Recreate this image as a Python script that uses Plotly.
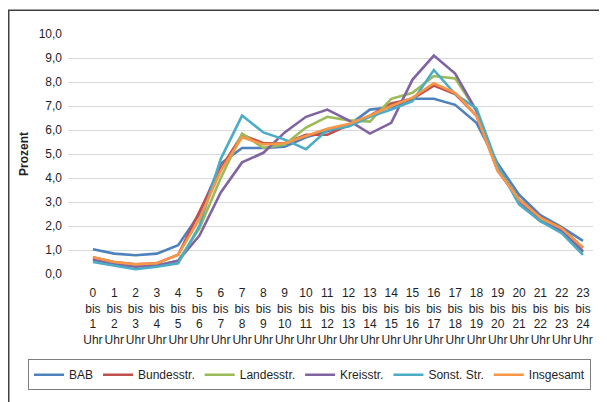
import plotly.graph_objects as go

hours = [f"{h}<br>bis<br>{h+1}<br>Uhr" for h in range(24)]

bab = [1.03, 0.85, 0.78, 0.85, 1.2, 2.5, 4.6, 5.25, 5.25, 5.3, 5.7, 5.95, 6.2, 6.85, 6.95, 7.3, 7.3, 7.05, 6.3, 4.6, 3.3, 2.45, 1.95, 1.38]
bundes = [0.7, 0.5, 0.4, 0.45, 0.8, 2.6, 4.4, 5.8, 5.45, 5.45, 5.8, 5.8, 6.2, 6.6, 7.1, 7.3, 7.85, 7.5, 6.6, 4.3, 3.1, 2.35, 1.9, 1.1]
landes = [0.6, 0.45, 0.35, 0.35, 0.55, 1.9, 4.0, 5.85, 5.25, 5.4, 6.1, 6.55, 6.4, 6.35, 7.3, 7.55, 8.25, 8.15, 6.8, 4.4, 3.1, 2.3, 1.85, 0.9]
kreis = [0.6, 0.4, 0.3, 0.35, 0.55, 1.6, 3.4, 4.65, 5.05, 5.9, 6.55, 6.85, 6.4, 5.85, 6.3, 8.1, 9.1, 8.35, 6.8, 4.4, 3.05, 2.2, 1.8, 0.95]
sonst = [0.5, 0.35, 0.2, 0.3, 0.45, 2.0, 4.8, 6.6, 5.9, 5.6, 5.2, 6.0, 6.15, 6.55, 6.85, 7.2, 8.5, 7.5, 6.9, 4.5, 2.9, 2.2, 1.7, 0.8]
insg = [0.7, 0.5, 0.4, 0.45, 0.8, 2.3, 4.3, 5.7, 5.4, 5.45, 5.75, 6.05, 6.25, 6.6, 7.0, 7.35, 7.95, 7.55, 6.6, 4.3, 3.1, 2.35, 1.9, 1.1]

names = ["BAB", "Bundesstr.", "Landesstr.", "Kreisstr.", "Sonst. Str.", "Insgesamt"]
series = [bab, bundes, landes, kreis, sonst, insg]
colors = ["#4F81BD", "#C0504D", "#9BBB59", "#8064A2", "#4BACC6", "#F79646"]

yticks = [0, 1, 2, 3, 4, 5, 6, 7, 8, 9, 10]
yticktext = [f"{v},0" for v in yticks]

font = "Liberation Sans"
txt = "#1f1f1f"

W, H = 599, 394
L, T, PW, PH = 60, 26, 525, 242

fig = go.Figure()
for n, s, c in zip(names, series, colors):
    fig.add_trace(go.Scatter(x=list(range(24)), y=s, name=n, mode="lines",
                             line=dict(color=c, width=2.6)))

fig.update_layout(
    width=W, height=H,
    margin=dict(l=L, r=W - L - PW, t=T, b=H - T - PH),
    paper_bgcolor="white", plot_bgcolor="white",
    font=dict(family=font, size=12, color=txt),
    showlegend=True,
    legend=dict(orientation="h", x=(20 - L) / PW, y=1 - (354 - T) / PH,
                xanchor="left", yanchor="top",
                bordercolor="#7f7f7f", borderwidth=1, font=dict(size=12),
                itemwidth=30, tracegroupgap=0),
    xaxis=dict(range=[-1.17, 23.47], tickmode="array", tickvals=list(range(24)),
               ticktext=hours, showgrid=False, zeroline=False, showline=False,
               tickfont=dict(size=12, color=txt), ticks="", tickangle=0,
               ticklabelstandoff=10, automargin=False),
    yaxis=dict(range=[0, 10], tickmode="array", tickvals=yticks, ticktext=yticktext,
               showgrid=True, gridcolor="#D9D9D9", gridwidth=1, zeroline=False,
               showline=False, tickfont=dict(size=12, color=txt),
               ticklabelstandoff=5, automargin=False,
               title=dict(text="<b>Prozent</b>", font=dict(size=12, color=txt), standoff=7)),
    shapes=[dict(type="rect", xref="paper", yref="paper",
                 x0=(0.75 - L) / PW, x1=1.2, y0=-0.8, y1=1 + (T - 2) / PH,
                 line=dict(color="#404040", width=1.5), layer="above")],
)

fig.write_html("out.html")
